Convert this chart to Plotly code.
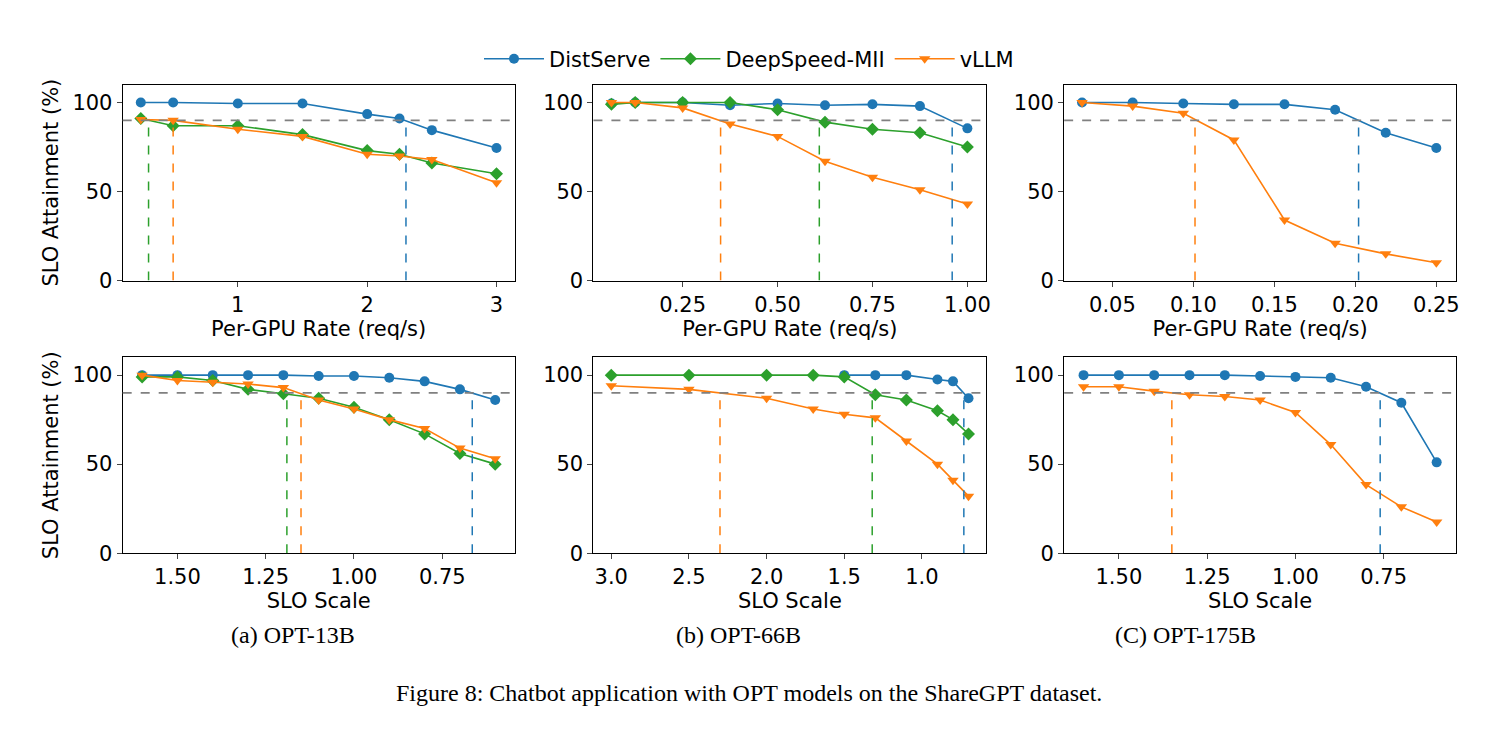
import plotly.graph_objects as go

C_DS = "#1f77b4"; C_MII = "#2ca02c"; C_VL = "#ff7f0e"

# Top row: per-GPU rate
t1_x = [0.25, 0.5, 1, 1.5, 2, 2.25, 2.5, 3]
t1_ds = [100, 100, 99.5, 99.5, 93.5, 91, 84.5, 74.5]
t1_mii = [91, 87, 87, 82, 73, 71, 66, 60]
t1_vl = [90.5, 90, 85, 81, 71, 70, 68, 55]
t1_v = {"ds": 2.3, "mii": 0.31, "vl": 0.5}

t2_x = [0.0625, 0.125, 0.25, 0.375, 0.5, 0.625, 0.75, 0.875, 1.0]
t2_ds = [99.5, 100, 100, 98.5, 99.5, 98.5, 99, 98, 85.5]
t2_mii = [99, 100, 100, 100, 96, 89, 85, 83, 75]
t2_vl = [100, 100, 97, 88, 81, 67, 58, 51, 43]
t2_v = {"ds": 0.96, "mii": 0.61, "vl": 0.35}

t3_x = [0.03125, 0.0625, 0.09375, 0.125, 0.15625, 0.1875, 0.21875, 0.25]
t3_ds = [100, 100, 99.5, 99, 99, 96, 83, 74.5]
t3_vl = [100, 98, 94, 79, 34, 21, 15, 10]
t3_v = {"ds": 0.202, "vl": 0.101}

# Bottom row: SLO scale
b1_x = [1.6, 1.5, 1.4, 1.3, 1.2, 1.1, 1.0, 0.9, 0.8, 0.7, 0.6]
b1_ds = [100, 100, 100, 100, 100, 99.5, 99.5, 98.5, 96.5, 92, 86]
b1_mii = [99, 99, 97, 92, 89.5, 87, 82, 75, 67, 56, 50]
b1_vl = [100, 97, 96, 95, 93, 86, 81, 75, 70, 59, 53]
b1_v = {"ds": 0.665, "mii": 1.19, "vl": 1.15}

b2_x_ds = [1.5, 1.3, 1.1, 0.9, 0.8, 0.7]
b2_ds = [100, 100, 100, 97.5, 96.5, 87]
b2_x = [3.0, 2.5, 2.0, 1.7, 1.5, 1.3, 1.1, 0.9, 0.8, 0.7]
b2_mii = [100, 100, 100, 100, 99, 89, 86, 80, 75, 67]
b2_vl = [94, 92, 87, 81, 78, 76, 63, 50, 41, 32]
b2_v = {"ds": 0.73, "mii": 1.32, "vl": 2.30}

b3_x = [1.6, 1.5, 1.4, 1.3, 1.2, 1.1, 1.0, 0.9, 0.8, 0.7, 0.6]
b3_ds = [100, 100, 100, 100, 100, 99.5, 99, 98.5, 93.5, 84.5, 51]
b3_vl = [93.5, 93.5, 91, 89, 88, 86, 79, 61, 38.5, 26, 17.5]
b3_v = {"ds": 0.76, "vl": 1.35}

captions = ["(a) OPT-13B", "(b) OPT-66B", "(C) OPT-175B"]
fig_caption = "Figure 8: Chatbot application with OPT models on the ShareGPT dataset."

W, H = 1486, 751
def dx(a, b): return [a / W, b / W]
def dy(top, bot): return [1 - bot / H, 1 - top / H]

cols = [(115, 508), (587, 981), (1059, 1452)]
rows = [(78, 277), (355, 554)]
cap_x = [222, 732, 1253]

fig = go.Figure()
styles = {"ds": (C_DS, "circle", "DistServe"), "mii": (C_MII, "diamond", "DeepSpeed-MII"),
          "vl": (C_VL, "triangle-down", "vLLM")}

panels = [
    (0, 0, {"ds": (t1_x, t1_ds), "mii": (t1_x, t1_mii), "vl": (t1_x, t1_vl)}, t1_v, [0.11, 3.14], False, [1, 2, 3], ["1", "2", "3"]),
    (0, 1, {"ds": (t2_x, t2_ds), "mii": (t2_x, t2_mii), "vl": (t2_x, t2_vl)}, t2_v, [0.015, 1.05], False, [0.25, 0.5, 0.75, 1.0], ["0.25", "0.50", "0.75", "1.00"]),
    (0, 2, {"ds": (t3_x, t3_ds), "vl": (t3_x, t3_vl)}, t3_v, [0.0202, 0.2622], False, [0.05, 0.1, 0.15, 0.2, 0.25], ["0.05", "0.10", "0.15", "0.20", "0.25"]),
    (1, 0, {"ds": (b1_x, b1_ds), "mii": (b1_x, b1_mii), "vl": (b1_x, b1_vl)}, b1_v, [1.655, 0.545], True, [1.5, 1.25, 1.0, 0.75], ["1.50", "1.25", "1.00", "0.75"]),
    (1, 1, {"ds": (b2_x_ds, b2_ds), "mii": (b2_x, b2_mii), "vl": (b2_x, b2_vl)}, b2_v, [3.115, 0.585], True, [3.0, 2.5, 2.0, 1.5, 1.0], ["3.0", "2.5", "2.0", "1.5", "1.0"]),
    (1, 2, {"ds": (b3_x, b3_ds), "vl": (b3_x, b3_vl)}, b3_v, [1.655, 0.545], True, [1.5, 1.25, 1.0, 0.75], ["1.50", "1.25", "1.00", "0.75"]),
]

font = dict(family="DejaVu Sans", size=21, color="black")
shown = set()
for i, (r, c, series, vl, xr, rev, tv, tt) in enumerate(panels):
    n = i + 1
    xa = f"x{n}" if n > 1 else "x"
    ya = f"y{n}" if n > 1 else "y"
    for key in ["ds", "mii", "vl"]:
        if key not in series:
            continue
        col, sym, name = styles[key]
        xs, ys = series[key]
        fig.add_trace(go.Scatter(x=xs, y=ys, mode="lines+markers", name=name,
                                 line=dict(color=col, width=1.6),
                                 marker=dict(symbol=sym, size=10, color=col),
                                 xaxis=xa, yaxis=ya, showlegend=key not in shown))
        shown.add(key)
    for key, xv in vl.items():
        fig.add_shape(type="line", x0=xv, x1=xv, y0=0, y1=90, xref=xa, yref=ya,
                      line=dict(color=styles[key][0], width=1.5, dash="dash"))
    fig.add_shape(type="line", x0=0, x1=1, y0=90, y1=90, xref=f"{xa} domain", yref=ya,
                  line=dict(color="gray", width=1.8, dash="dash"))
    axkw = dict(showline=True, mirror=True, linecolor="black", linewidth=1, ticks="outside",
                ticklen=5, showgrid=False, zeroline=False, tickfont=font)
    fig.layout[("xaxis" + (str(n) if n > 1 else ""))] = dict(
        domain=dx(*cols[c]), anchor=ya, range=xr, tickvals=tv, ticktext=tt,
        title=dict(text="SLO Scale" if rev else "Per-GPU Rate (req/s)", font=font, standoff=0), **axkw)
    fig.layout[("yaxis" + (str(n) if n > 1 else ""))] = dict(
        domain=dy(*rows[r]), anchor=xa, range=[0, 110], tickvals=[0, 50, 100],
        title=dict(text="SLO Attainment (%)" if c == 0 else "", font=font, standoff=8), **axkw)

for c, cap in enumerate(captions):
    fig.add_annotation(text=cap, x=cap_x[c] / W, y=1 - 652 / H, xref="paper", yref="paper",
                       showarrow=False, font=dict(family="Liberation Serif", size=24, color="black"))
fig.add_annotation(text=fig_caption, x=0.5, y=1 - 711 / H, xref="paper", yref="paper", showarrow=False,
                   font=dict(family="Liberation Serif", size=24, color="black"))

fig.update_layout(width=W, height=H, margin=dict(l=0, r=0, t=0, b=0),
                  paper_bgcolor="white", plot_bgcolor="white",
                  legend=dict(orientation="h", x=0.5, xanchor="center", y=1 - 52 / H, yanchor="middle",
                              font=font, itemwidth=60))
fig.write_html("out.html")
